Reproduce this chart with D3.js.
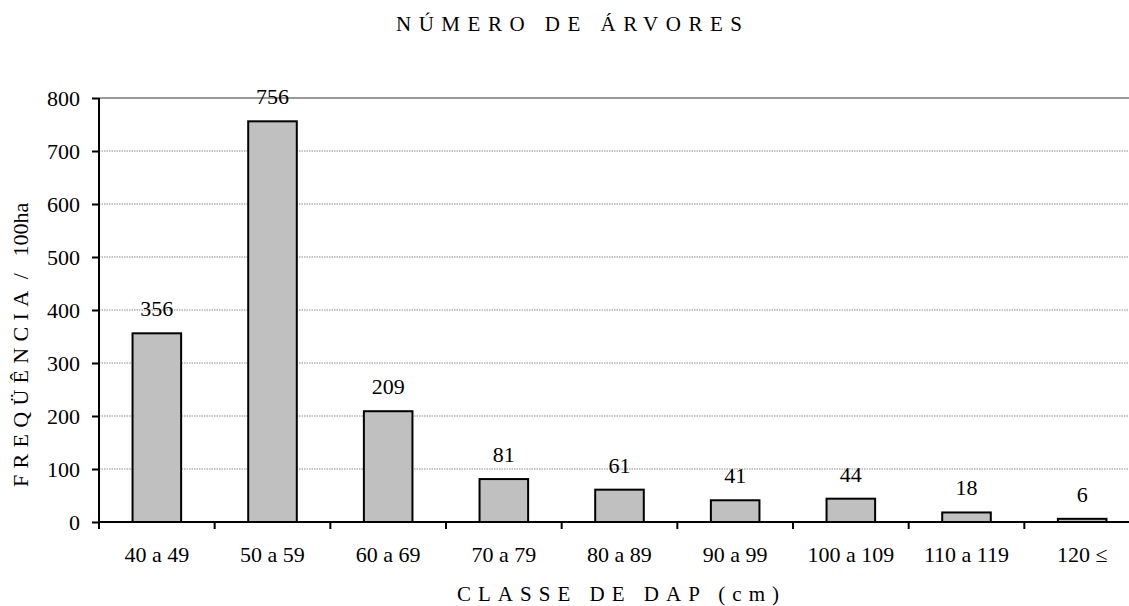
<!DOCTYPE html>
<html>
<head>
<meta charset="utf-8">
<script src="https://cdn.jsdelivr.net/npm/d3@7"></script>
<style>
  html, body { margin: 0; padding: 0; background: #fff; }
  svg { display: block; }
  text { font-family: "Liberation Serif", "Times New Roman", serif; fill: #000; }
</style>
</head>
<body>
<svg id="chart" width="1129" height="606"></svg>
<script>
// Diameter classes (DAP) and tree counts per 100 ha
const categories = ["40 a 49", "50 a 59", "60 a 69", "70 a 79", "80 a 89", "90 a 99", "100 a 109", "110 a 119", "120 \u2264"];
const values = [356, 756, 209, 81, 61, 41, 44, 18, 6];
const yTicks = [0, 100, 200, 300, 400, 500, 600, 700, 800];

const chartTitle = "N\u00DAMERO DE \u00C1RVORES";
const xTitle = "CLASSE DE DAP (cm)";
const yTitleMain = "FREQ\u00DC\u00CANCIA";
const yTitleUnit = "\u00A0/\u00A0\u00A0\u00A0100ha";

const svg = d3.select("#chart");
const margin = { left: 99, right: -11, top: 98, bottom: 84 };
const W = 1129, H = 606;
const fs = 22;

const x = d3.scaleBand()
  .domain(categories)
  .range([margin.left, W - margin.right])
  .paddingInner(0.58)
  .paddingOuter(0.29);

const xSlot = d3.scaleBand()
  .domain(categories)
  .range([margin.left, W - margin.right])
  .padding(0);

const y = d3.scaleLinear()
  .domain([0, 800])
  .range([H - margin.bottom, margin.top]);

// Gridlines
svg.append("g")
  .selectAll("line")
  .data(yTicks.filter(d => d > 0))
  .join("line")
  .attr("x1", margin.left)
  .attr("x2", W)
  .attr("y1", d => y(d))
  .attr("y2", d => y(d))
  .attr("stroke", d => d === 800 ? "#9a9a9a" : "#8a8a8a")
  .attr("stroke-width", d => d === 800 ? 2 : 1)
  .attr("stroke-dasharray", d => d === 800 ? null : "1.5,1");

// Bars
svg.append("g")
  .selectAll("rect")
  .data(values)
  .join("rect")
  .attr("x", (d, i) => x(categories[i]))
  .attr("y", d => y(d))
  .attr("width", x.bandwidth())
  .attr("height", d => y(0) - y(d))
  .attr("fill", "#c0c0c0")
  .attr("stroke", "#000")
  .attr("stroke-width", 2);

// Value labels
svg.append("g")
  .selectAll("text")
  .data(values)
  .join("text")
  .attr("x", (d, i) => x(categories[i]) + x.bandwidth() / 2)
  .attr("y", d => y(d) - 17)
  .attr("text-anchor", "middle")
  .attr("font-size", fs)
  .text(d => d);

// Y axis
const yAxis = svg.append("g")
  .attr("transform", `translate(${margin.left},0)`)
  .call(d3.axisLeft(y).tickValues(yTicks).tickSize(7).tickPadding(12).tickFormat(d3.format("d")));
yAxis.select(".domain").attr("stroke", "#000").attr("stroke-width", 2).attr("d", `M0,${y(800)}V${y(0)}`);
yAxis.selectAll(".tick line").attr("stroke", "#000").attr("stroke-width", 2);
yAxis.selectAll(".tick text")
  .attr("dy", "0.34em")
  .attr("font-size", fs);

// X axis
const xAxis = svg.append("g")
  .attr("transform", `translate(0,${y(0)})`);
xAxis.append("line")
  .attr("x1", margin.left).attr("x2", W)
  .attr("stroke", "#000").attr("stroke-width", 2);
xAxis.selectAll(".xtick")
  .data(categories)
  .join("line")
  .attr("class", "xtick")
  .attr("x1", d => xSlot(d)).attr("x2", d => xSlot(d))
  .attr("y1", 0).attr("y2", 7)
  .attr("stroke", "#000").attr("stroke-width", 2);
xAxis.selectAll(".xlabel")
  .data(categories)
  .join("text")
  .attr("class", "xlabel")
  .attr("x", d => xSlot(d) + xSlot.bandwidth() / 2)
  .attr("y", 40)
  .attr("text-anchor", "middle")
  .attr("font-size", fs)
  .text(d => d);

// Titles
svg.append("text")
  .attr("x", 569).attr("y", 31)
  .attr("text-anchor", "middle")
  .attr("font-size", 21)
  .attr("textLength", 346)
  .attr("lengthAdjust", "spacing")
  .text(chartTitle);

svg.append("text")
  .attr("x", 618).attr("y", 601)
  .attr("text-anchor", "middle")
  .attr("font-size", 21)
  .attr("textLength", 322)
  .attr("lengthAdjust", "spacing")
  .text(xTitle);

const yTitle = svg.append("text")
  .attr("transform", "translate(28,487) rotate(-90)")
  .attr("text-anchor", "start")
  .attr("font-size", 22);
yTitle.append("tspan").attr("letter-spacing", 6.3).text(yTitleMain);
yTitle.append("tspan").attr("letter-spacing", 0).text(yTitleUnit);
</script>
</body>
</html>
